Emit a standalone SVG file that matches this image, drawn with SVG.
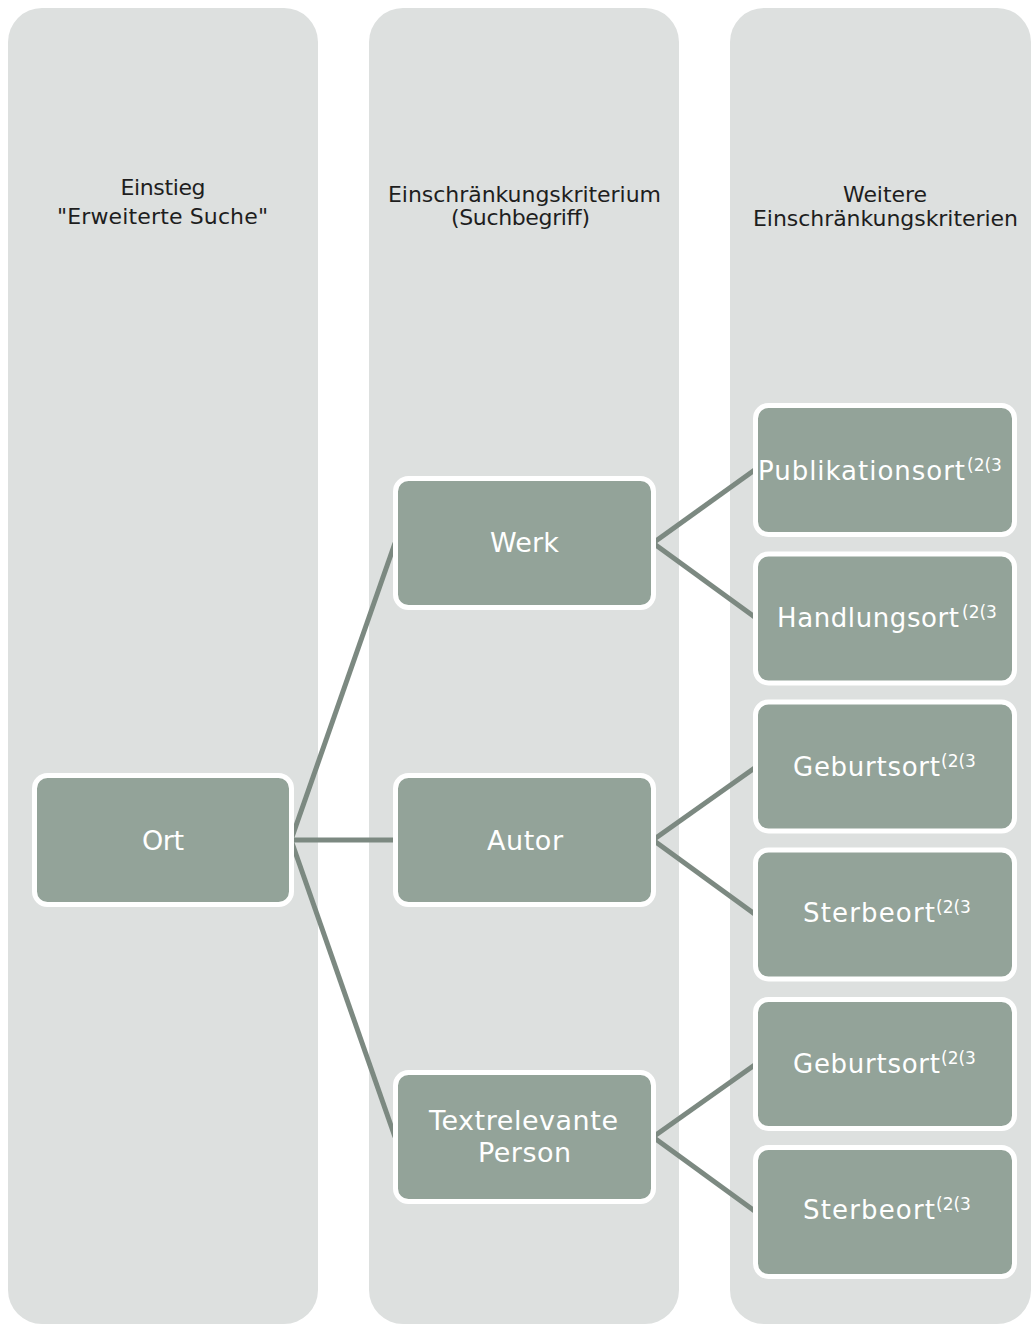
<svg xmlns="http://www.w3.org/2000/svg" width="1031" height="1324" viewBox="0 0 1031 1324">
  <style>
    .lane { fill: #DDE0DF; }
    .box { fill: #93A399; stroke: #FFFFFF; stroke-width: 5; }
    .head { font-family: "DejaVu Sans", "Liberation Sans", sans-serif; font-size: 22px; fill: #1E1E1E; text-anchor: middle; }
    .lbl { font-family: "DejaVu Sans", "Liberation Sans", sans-serif; font-size: 26px; fill: #FFFFFF; }
    .mid { text-anchor: middle; font-size: 27px; }
    .sup { font-size: 17px; }
    .link { fill: none; stroke: #7C8981; stroke-width: 5; }
  </style>

  <!-- background lanes -->
  <g id="lanes">
    <rect class="lane" x="8" y="8" width="310" height="1316" rx="34"/>
    <rect class="lane" x="369" y="8" width="310" height="1316" rx="34"/>
    <rect class="lane" x="730" y="8" width="301" height="1316" rx="34"/>
  </g>

  <!-- lane headings -->
  <g id="headings">
    <text class="head" x="163" y="195" textLength="85">Einstieg</text>
    <text class="head" x="162.5" y="224" textLength="211">"Erweiterte Suche"</text>
    <text class="head" x="524.5" y="202" textLength="273">Einschränkungskriterium</text>
    <text class="head" x="520.5" y="225" textLength="139">(Suchbegriff)</text>
    <text class="head" x="885" y="202" textLength="84">Weitere</text>
    <text class="head" x="885.5" y="226" textLength="265">Einschränkungskriterien</text>
  </g>

  <!-- connectors -->
  <g id="connectors">
    <path class="link" d="M291 840 L395 543"/>
    <path class="link" d="M291 840 L395 840"/>
    <path class="link" d="M291 840 L395 1137"/>
    <path class="link" d="M653 543 L756 469"/>
    <path class="link" d="M653 543 L756 618"/>
    <path class="link" d="M653 840 L756 767"/>
    <path class="link" d="M653 840 L756 915"/>
    <path class="link" d="M653 1137 L756 1064"/>
    <path class="link" d="M653 1137 L756 1212"/>
  </g>

  <!-- nodes -->
  <g id="node-ort">
    <rect class="box" x="34.5" y="775.5" width="257" height="129" rx="13"/>
    <text class="lbl mid" x="163" y="850" textLength="42">Ort</text>
  </g>
  <g id="node-werk">
    <rect class="box" x="395.5" y="478.5" width="258" height="129" rx="13"/>
    <text class="lbl mid" x="524.5" y="552" textLength="69">Werk</text>
  </g>
  <g id="node-autor">
    <rect class="box" x="395.5" y="775.5" width="258" height="129" rx="13"/>
    <text class="lbl mid" x="525" y="850" textLength="76">Autor</text>
  </g>
  <g id="node-person">
    <rect class="box" x="395.5" y="1072.5" width="258" height="129" rx="13"/>
    <text class="lbl mid" x="523.5" y="1130" textLength="189">Textrelevante</text>
    <text class="lbl mid" x="524.5" y="1162" textLength="93">Person</text>
  </g>

  <g id="node-publikationsort">
    <rect class="box" x="755.5" y="405.5" width="259" height="129" rx="13"/>
    <text class="lbl" x="758" y="480"><tspan textLength="207">Publikationsort</tspan><tspan class="sup" x="967" dy="-9">(2(3</tspan></text>
  </g>
  <g id="node-handlungsort">
    <rect class="box" x="755.5" y="554" width="259" height="129" rx="13"/>
    <text class="lbl" x="777" y="627"><tspan textLength="182">Handlungsort</tspan><tspan class="sup" x="962" dy="-9">(2(3</tspan></text>
  </g>
  <g id="node-geburtsort-autor">
    <rect class="box" x="755.5" y="702" width="259" height="129" rx="13"/>
    <text class="lbl" x="793" y="776"><tspan textLength="147">Geburtsort</tspan><tspan class="sup" x="941" dy="-9">(2(3</tspan></text>
  </g>
  <g id="node-sterbeort-autor">
    <rect class="box" x="755.5" y="850" width="259" height="129" rx="13"/>
    <text class="lbl" x="803" y="922"><tspan textLength="132">Sterbeort</tspan><tspan class="sup" x="936" dy="-9">(2(3</tspan></text>
  </g>
  <g id="node-geburtsort-person">
    <rect class="box" x="755.5" y="999.5" width="259" height="129" rx="13"/>
    <text class="lbl" x="793" y="1073"><tspan textLength="147">Geburtsort</tspan><tspan class="sup" x="941" dy="-9">(2(3</tspan></text>
  </g>
  <g id="node-sterbeort-person">
    <rect class="box" x="755.5" y="1147.5" width="259" height="129" rx="13"/>
    <text class="lbl" x="803" y="1219"><tspan textLength="132">Sterbeort</tspan><tspan class="sup" x="936" dy="-9">(2(3</tspan></text>
  </g>
</svg>
